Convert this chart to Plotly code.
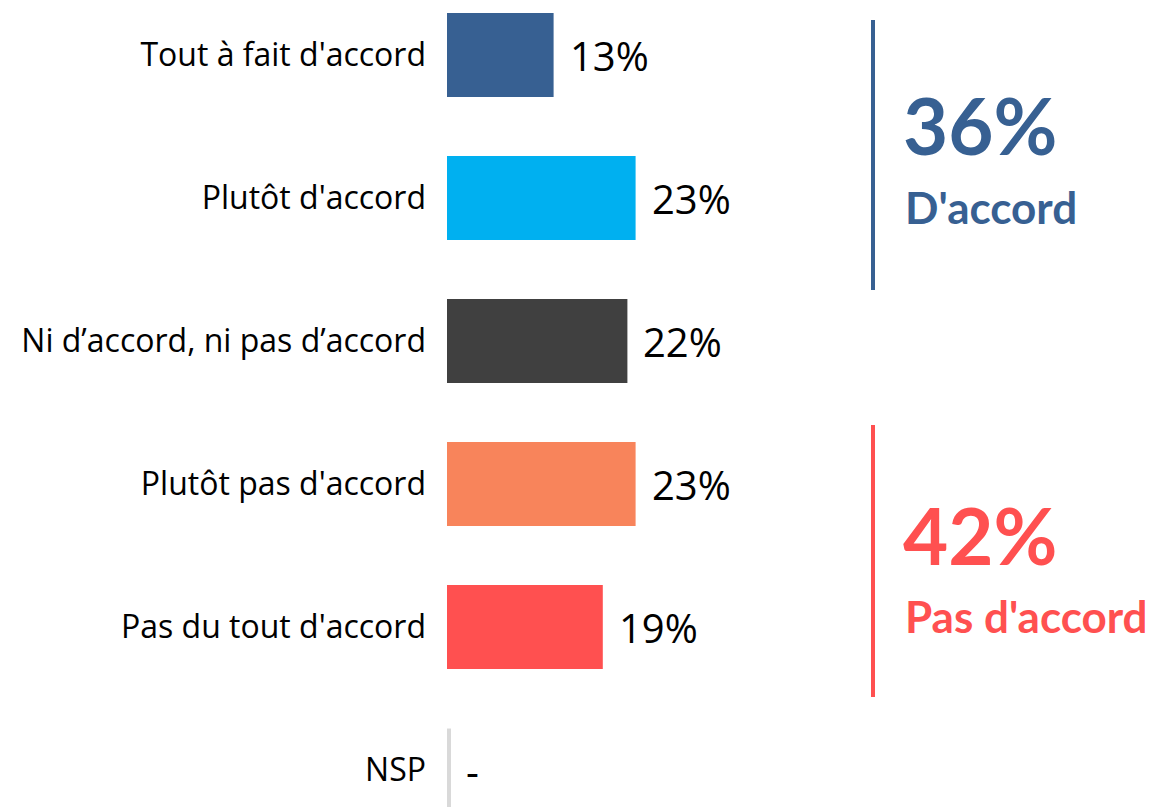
import plotly.graph_objects as go

categories = ["Tout à fait d'accord", "Plutôt d'accord", "Ni d’accord, ni pas d’accord",
              "Plutôt pas d'accord", "Pas du tout d'accord", "NSP"]
values = [13, 23, 22, 23, 19, 0]
value_labels = ["13%", "23%", "22%", "23%", "19%", "-"]
colors = ["#376092", "#00B0F0", "#404040", "#F8845B", "#FF5050", "#D9D9D9"]

group_totals = ["36%", "42%"]
group_labels = ["D'accord", "Pas d'accord"]
group_colors = ["#376092", "#FF5050"]
group_rows = [(0, 1), (3, 4)]
# styling: bracket extents (in rows) and text offsets (px)
group_line_ext = [(-0.245, 0.643), (-0.413, 0.49)]
group_total_shift = [2, 21]
group_label_shift = [-80, -60]

SANS = "Open Sans, sans-serif"
BOLD = "Lato, sans-serif"
W, H = 1153, 807
L = 439
px_per_pct = 8.2
row_px = 143
top_center = 47

idx = list(range(len(categories)))
fig = go.Figure(go.Bar(
    x=values, y=idx, orientation="h", marker=dict(color=colors, line_width=0),
    width=0.587, hoverinfo="skip",
))

for i, (v, t) in enumerate(zip(values, value_labels)):
    fig.add_annotation(x=v, y=i, text=t, showarrow=False, xanchor="left",
                       xshift=14 if v > 0 else 17, yshift=0,
                       font=dict(family=SANS, size=40, color="#000000"))

nsp = categories.index("NSP")
fig.add_shape(type="line", xref="x", yref="y", x0=2 / px_per_pct, x1=2 / px_per_pct,
              y0=nsp - 0.29, y1=nsp + 0.35, line=dict(color="#D9D9D9", width=4))

x_range_max = (W - L) / px_per_pct
ymin = -top_center / row_px
ymax = (H - top_center) / row_px


def xpaper(px):
    return (px - L) / (W - L)


for g in range(len(group_totals)):
    r0, r1 = group_rows[g]
    e0, e1 = group_line_ext[g]
    c = group_colors[g]
    fig.add_shape(type="line", xref="paper", yref="y", x0=xpaper(865), x1=xpaper(865),
                  y0=r0 + e0, y1=r1 + e1, line=dict(color=c, width=4))
    mid = (r0 + r1) / 2
    fig.add_annotation(xref="paper", yref="y", x=xpaper(893), y=mid, text=group_totals[g],
                       showarrow=False, xanchor="left", yanchor="middle",
                       yshift=group_total_shift[g],
                       font=dict(family=BOLD, size=78, color=c, weight="bold"))
    fig.add_annotation(xref="paper", yref="y", x=xpaper(895), y=mid, text=group_labels[g],
                       showarrow=False, xanchor="left", yanchor="middle",
                       yshift=group_label_shift[g],
                       font=dict(family=BOLD, size=44, color=c, weight="bold"))

fig.update_layout(
    width=W, height=H, margin=dict(l=L, r=0, t=0, b=0),
    plot_bgcolor="white", paper_bgcolor="white", showlegend=False,
    xaxis=dict(range=[0, x_range_max], visible=False),
    yaxis=dict(range=[ymax, ymin], tickmode="array", tickvals=idx, ticktext=categories,
               showline=False, showgrid=False, zeroline=False, ticks="",
               ticklabelstandoff=20,
               tickfont=dict(family=SANS, size=32, color="#000000")),
)
fig.write_html("out.html")
